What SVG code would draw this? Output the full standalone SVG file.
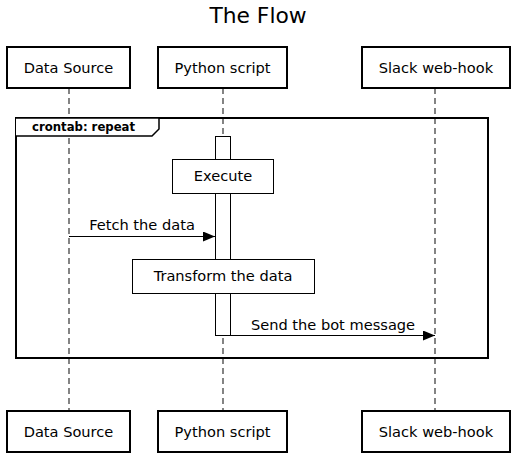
<svg xmlns="http://www.w3.org/2000/svg" width="517" height="464" viewBox="0 0 517 464">
<defs>
<style>
text{font-family:"DejaVu Sans",sans-serif;fill:#000}
.p{fill:#fff;stroke:#000;stroke-width:2}
.pt{font-size:14.6px;text-anchor:middle}
.life{stroke:#333;stroke-width:1.2;stroke-dasharray:6,4;fill:none}
.box{fill:#fff;stroke:#000;stroke-width:1}
.msg{stroke:#000;stroke-width:1;fill:none}
.mt{font-size:14.6px;text-anchor:middle}
</style>
<marker id="ah" viewBox="0 0 12 10" refX="12" refY="5" markerWidth="12" markerHeight="10" markerUnits="userSpaceOnUse" orient="auto"><path d="M0,0 L12,5 L0,10 Z" fill="#000"/></marker>
</defs>
<rect width="517" height="464" fill="#fff"/>
<text x="258" y="23" font-size="21.8" text-anchor="middle">The Flow</text>
<g id="lifelines">
<line class="life" x1="69" y1="88" x2="69" y2="411"/>
<line class="life" x1="223" y1="88" x2="223" y2="411"/>
<line class="life" x1="435" y1="88" x2="435" y2="411"/>
</g>
<g id="loop">
<rect x="16" y="118" width="472" height="240" fill="none" stroke="#000" stroke-width="2"/>
<path d="M16,118 H159 V129 L152,136 H16" fill="#fff" stroke="#000" stroke-width="1.5"/>
<text x="32" y="131" font-size="11.7" font-weight="bold">crontab: repeat</text>
</g>
<g id="activation">
<rect class="box" x="215.5" y="136.5" width="15" height="199"/>
</g>
<g id="execute">
<rect class="box" x="172.5" y="159.5" width="101" height="34"/>
<text class="mt" x="223" y="181">Execute</text>
</g>
<g id="transform">
<rect class="box" x="132.5" y="259.5" width="182" height="34"/>
<text class="mt" x="223" y="281">Transform the data</text>
</g>
<g id="connectors">
<line class="msg" x1="69" y1="236.5" x2="215" y2="236.5" marker-end="url(#ah)"/>
<text class="mt" x="142" y="230">Fetch the data</text>
<line class="msg" x1="231" y1="335.5" x2="435" y2="335.5" marker-end="url(#ah)"/>
<text class="mt" x="333" y="330">Send the bot message</text>
</g>
<g id="ds-top"><rect class="p" x="7" y="47" width="123" height="41"/><text class="pt" x="68.5" y="73">Data Source</text></g>
<g id="py-top"><rect class="p" x="158" y="47" width="129" height="41"/><text class="pt" x="222.5" y="73">Python script</text></g>
<g id="sl-top"><rect class="p" x="362" y="47" width="148" height="41"/><text class="pt" x="436" y="73">Slack web-hook</text></g>
<g id="ds-bot"><rect class="p" x="7" y="411" width="123" height="41"/><text class="pt" x="68.5" y="437">Data Source</text></g>
<g id="py-bot"><rect class="p" x="158" y="411" width="129" height="41"/><text class="pt" x="222.5" y="437">Python script</text></g>
<g id="sl-bot"><rect class="p" x="362" y="411" width="148" height="41"/><text class="pt" x="436" y="437">Slack web-hook</text></g>
</svg>
